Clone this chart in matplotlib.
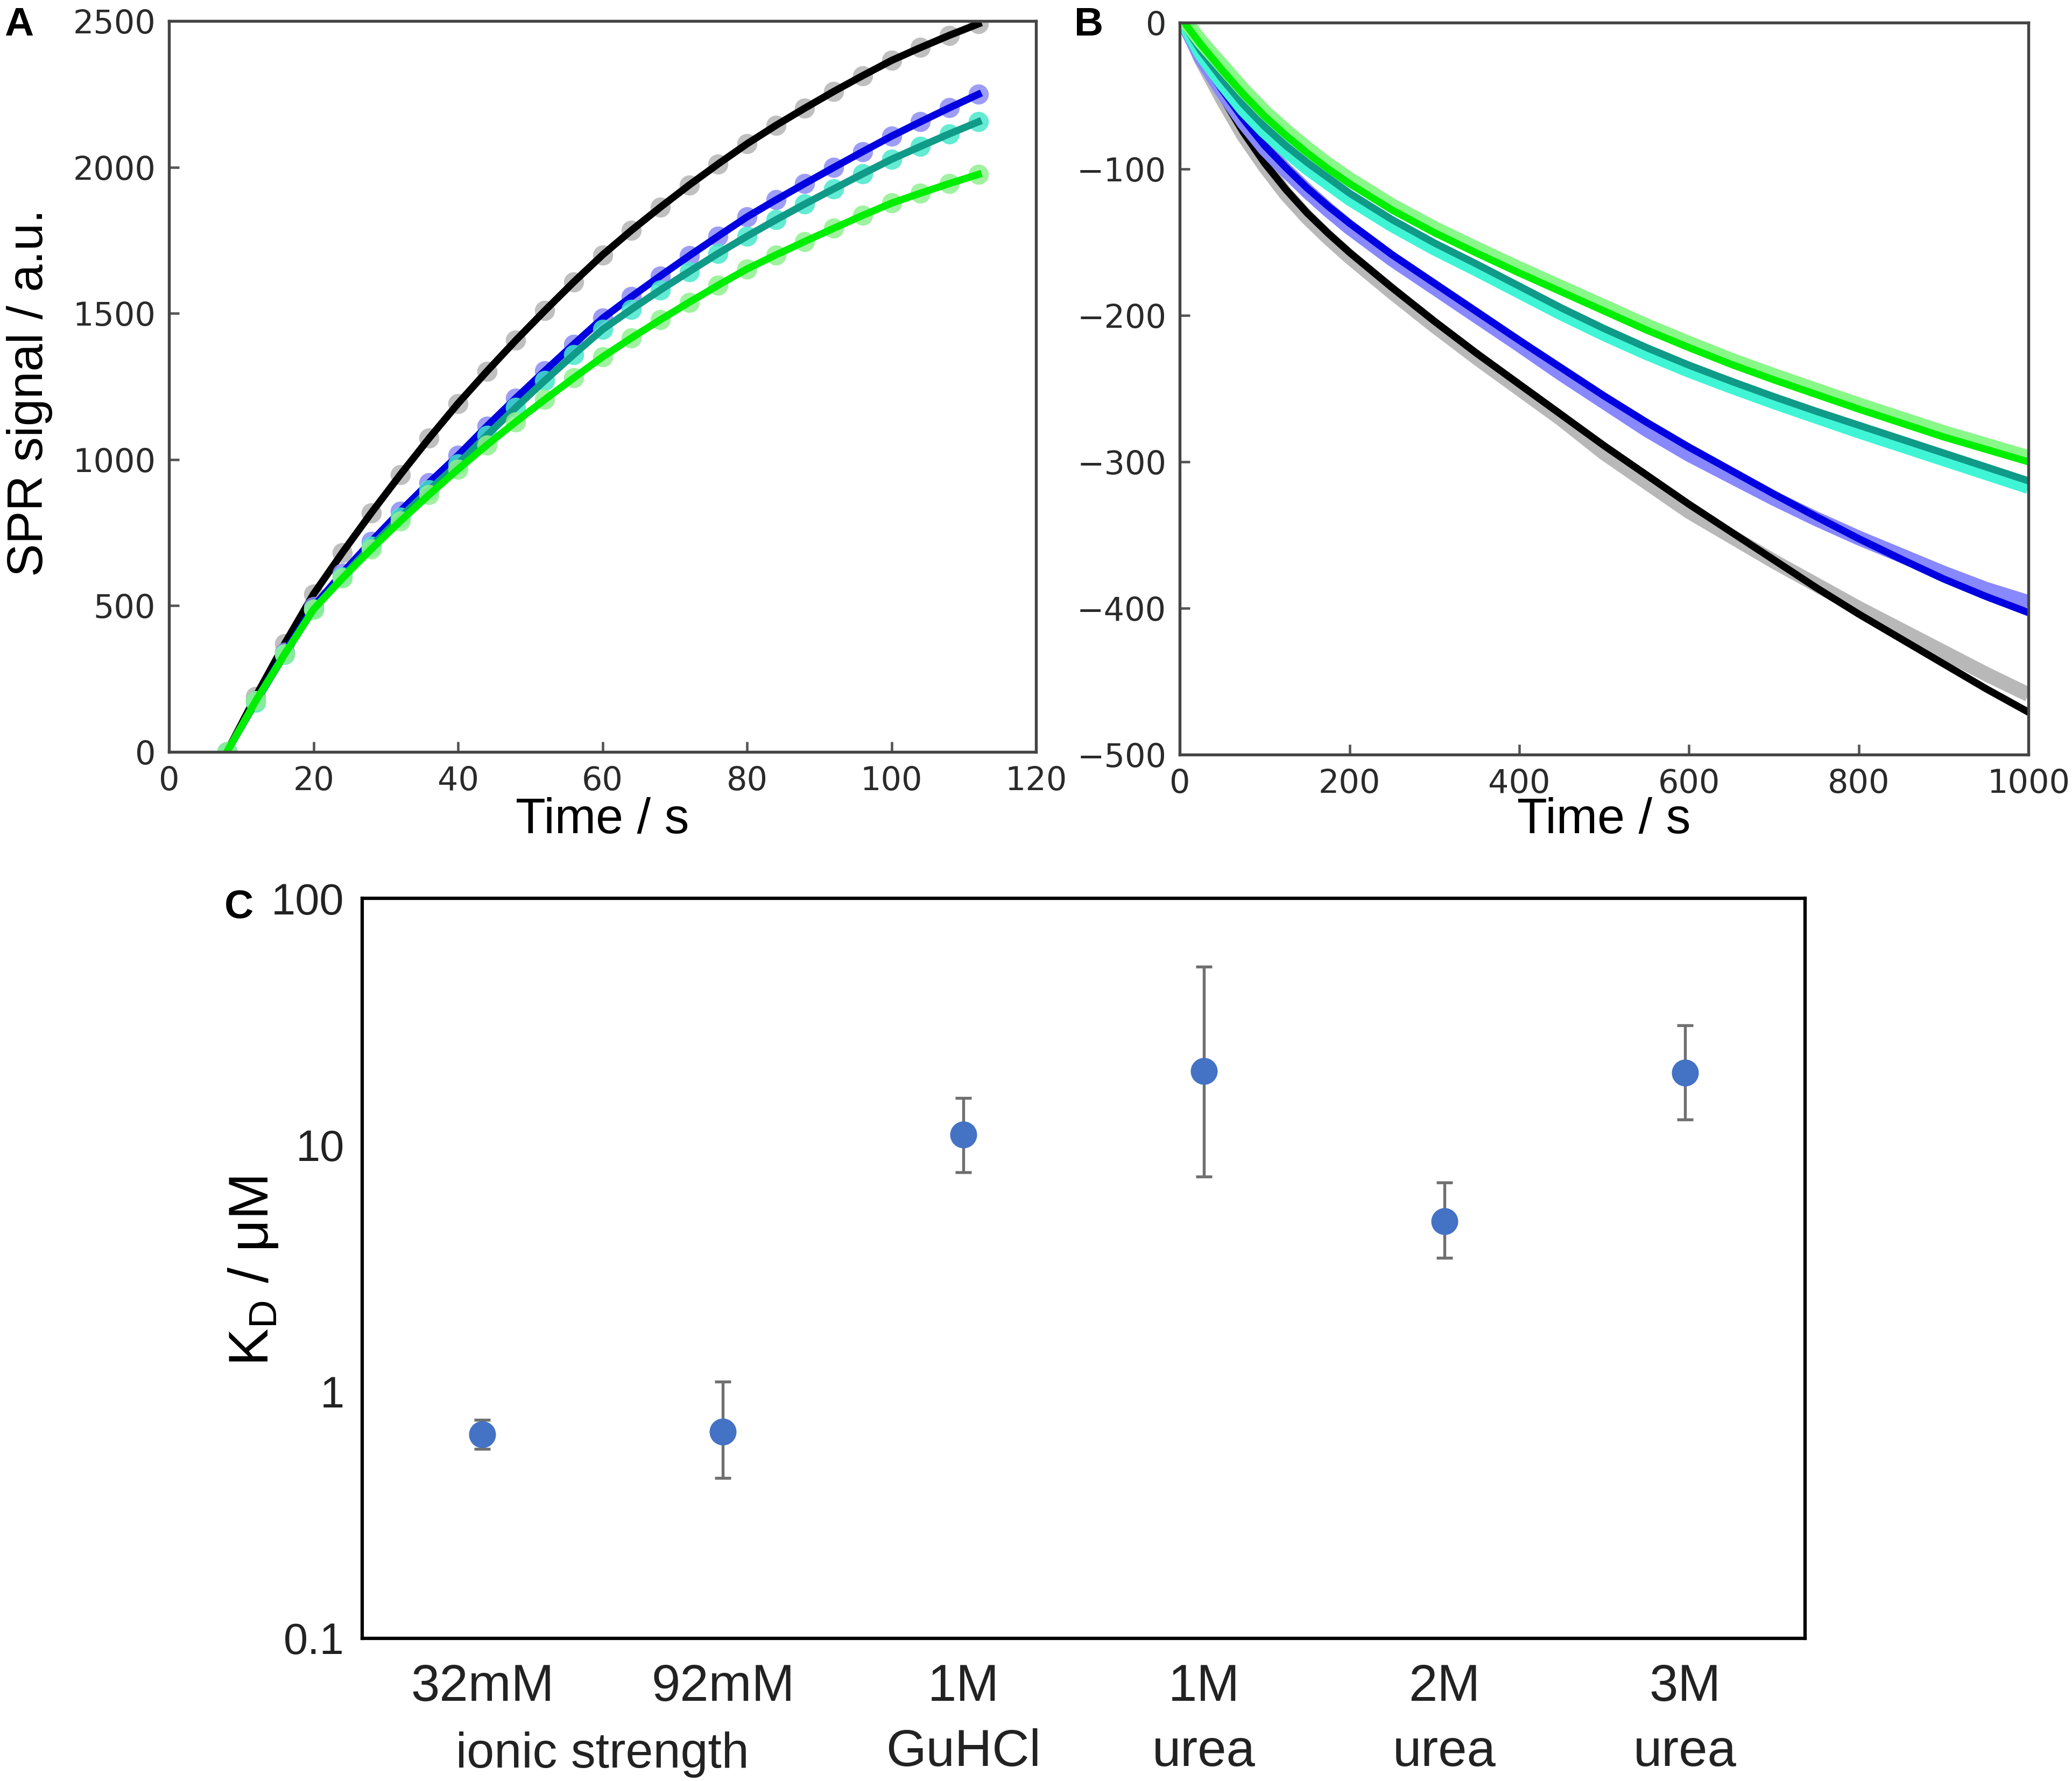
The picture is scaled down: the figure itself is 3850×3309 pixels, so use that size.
import matplotlib
matplotlib.use('Agg')
import matplotlib.pyplot as plt
from matplotlib.ticker import NullLocator

plt.rcParams['font.family'] = ['Liberation Sans', 'DejaVu Sans']
plt.rcParams['mathtext.fontset'] = 'custom'
plt.rcParams['mathtext.rm'] = 'Liberation Sans'
plt.rcParams['mathtext.it'] = 'Liberation Sans:italic'

# Panel A: association phase, one reading every 4 s
t_assoc = [8, 12, 16, 20, 24, 28, 32, 36, 40, 44, 48, 52, 56, 60, 64, 68, 72,
           76, 80, 84, 88, 92, 96, 100, 104, 108, 112]
assoc_black = [0, 190, 370, 540, 682, 818, 948, 1073, 1192, 1302, 1408, 1509, 1607, 1700,
               1784, 1863, 1939, 2011, 2080, 2143, 2202, 2259, 2313, 2365, 2409, 2451, 2490]
assoc_blue = [0, 175, 340, 497, 612, 720, 823, 921, 1014, 1114, 1210, 1303, 1394, 1483,
              1557, 1628, 1697, 1764, 1830, 1888, 1944, 1999, 2053, 2106, 2155, 2203, 2249]
assoc_teal = [0, 170, 333, 488, 599, 703, 802, 896, 985, 1083, 1178, 1270, 1359, 1445,
              1514, 1580, 1643, 1705, 1764, 1820, 1874, 1926, 1977, 2027, 2071, 2114, 2155]
assoc_green = [0, 175, 335, 488, 594, 694, 789, 880, 967, 1050, 1129, 1205, 1279, 1351,
               1416, 1478, 1538, 1596, 1652, 1700, 1746, 1791, 1835, 1877, 1911, 1944, 1975]

# Panel B: dissociation phase (fit lines and measured traces)
t_dissoc = [8, 25, 50, 75, 100, 125, 150, 175, 200, 250, 300, 350, 400, 450, 500,
            550, 600, 650, 700, 750, 800, 850, 900, 950, 1000]
fit_black = [-4, -25, -51, -75, -96, -114, -130, -144, -157, -181, -204, -226, -247,
             -268, -289, -309, -329, -348, -367, -386, -404, -421, -438, -455, -471]
fit_blue = [-4, -24, -46, -66, -84, -99, -113, -125.5, -137, -158.5, -178, -197.5, -217,
            -236, -255, -273, -290, -306, -322, -337.5, -352.5, -366.5, -380, -392, -403]
fit_teal = [-4, -19.5, -38.5, -56, -71, -84, -95.5, -106, -116.5, -134.5, -150.5, -165, -180,
            -195, -209, -222, -234, -245, -255.5, -265.5, -275, -284.5, -294, -303.5, -313]
fit_green = [-2, -15, -32.5, -49, -64, -77, -89, -100, -110, -128, -143.5, -157.5, -171,
             -184, -197, -210, -222, -233.5, -244, -254, -264, -273.5, -283, -291.5, -300]
data_black = [-3, -25, -52, -77, -98, -117, -133, -147, -160, -184, -207, -229, -250,
              -271, -294, -314, -334, -351, -368, -384, -400, -415, -430, -445, -459]
data_blue = [-4, -24, -47, -68, -86, -101, -115, -128, -140, -161.5, -181, -200.5, -220,
             -240, -259, -278, -295, -310, -325, -339, -352, -364, -376, -387, -396]
data_teal = [-3, -21, -41, -59, -74, -87, -99, -109.5, -120, -138, -154, -168.5, -183.5,
             -198.5, -212.5, -225.5, -237.5, -248.5, -259, -269, -279, -288.5, -298, -307.5, -317]
data_green = [0, -13, -29.5, -46, -61, -74, -86, -97, -107, -125, -140.5, -154.5, -168,
              -181, -194, -207, -219, -230.5, -241, -251, -261, -270.5, -280, -288.5, -297]

# Panel C: dissociation constants
conditions = ['32mM', '92mM', '1M\nGuHCl', '1M\nurea', '2M\nurea', '3M\nurea']
kd = [0.67, 0.69, 11.0, 19.9, 4.9, 19.6]
kd_low = [0.587, 0.447, 7.77, 7.44, 3.49, 12.7]
kd_high = [0.769, 1.096, 15.5, 52.9, 7.05, 30.6]

line_colors = ['black', '#0000e0', '#109a88', '#00ee00']
dot_colors = ['#b4b4b4', '#8c8cf5', '#48e8cc', '#90f090']
band_colors = ['#b8b8b8', '#8888ff', '#40f5d5', '#88f888']

fig = plt.figure(figsize=(3850 / 300, 3309 / 300), dpi=300)
axA = fig.add_axes([0.0816, 0.5778, 0.4184, 0.4104])
axB = fig.add_axes([0.5694, 0.5763, 0.4096, 0.4110])
axC = fig.add_axes([0.1748, 0.0801, 0.6964, 0.4155])

# --- A ---
for y, dc, lc in zip([assoc_black, assoc_blue, assoc_teal, assoc_green], dot_colors, line_colors):
    axA.plot(t_assoc, y, 'o', ms=9, mfc=dc, mec='none', alpha=0.85)
    axA.plot(t_assoc, y, '-', color=lc, lw=3.2)
axA.set_xlim(0, 120)
axA.set_ylim(0, 2500)
axA.set_xticks(range(0, 121, 20))
axA.set_yticks(range(0, 2501, 500))
axA.set_xlabel('Time / s', fontsize=22)
axA.xaxis.set_label_coords(0.5, -0.062)
fig.text(0.003, 0.7794, 'SPR signal / a.u.', rotation=90, ha='left', va='center', fontsize=22)

# --- B ---
fits = [fit_black, fit_blue, fit_teal, fit_green]
datas = [data_black, data_blue, data_teal, data_green]
for d, f, bc, lc in zip(datas, fits, band_colors, line_colors):
    axB.plot(t_dissoc, d, '-', color=bc, lw=6.5, solid_capstyle='butt')
    axB.plot(t_dissoc, f, '-', color=lc, lw=3.2)
axB.set_xlim(0, 1000)
axB.set_ylim(-500, 0)
axB.set_xticks(range(0, 1001, 200))
axB.set_yticks(range(-500, 1, 100))
axB.set_xlabel('Time / s', fontsize=22)
axB.xaxis.set_label_coords(0.5, -0.058)

for ax in (axA, axB):
    for s in ax.spines.values():
        s.set_color('#444444')
        s.set_linewidth(1.3)
    ax.tick_params(direction='in', length=4.5, width=1.1, color='#555555',
                   labelcolor='#2a2a2a', labelsize=14.5, pad=6)
    for lbl in ax.get_xticklabels() + ax.get_yticklabels():
        lbl.set_family('DejaVu Sans')

# --- C ---
x = list(range(len(conditions)))
yerr = [[k - lo for k, lo in zip(kd, kd_low)], [hi - k for k, hi in zip(kd, kd_high)]]
axC.errorbar(x, kd, yerr=yerr, fmt='o', ms=11, color='#4472c4', mec='#4472c4',
             ecolor='#707070', elinewidth=1.3, capsize=3.5, capthick=1.3)
axC.set_yscale('log')
axC.set_ylim(0.1, 100)
axC.set_xlim(-0.5, 5.5)
axC.set_yticks([0.1, 1, 10, 100])
axC.set_yticklabels(['0.1', '1', '10', '100'])
axC.yaxis.set_minor_locator(NullLocator())
axC.set_xticks(x)
axC.set_xticklabels(conditions)
axC.tick_params(axis='both', length=0, labelcolor='#222222')
axC.tick_params(axis='x', labelsize=23, pad=11)
axC.tick_params(axis='y', labelsize=19.5, pad=8)
for lbl in axC.get_xticklabels():
    lbl.set_linespacing(1.45)
for s in axC.spines.values():
    s.set_color('black')
    s.set_linewidth(1.5)
axC.text(0.5, -0.157, 'ionic strength', transform=axC.get_xaxis_transform(),
         ha='center', va='center', fontsize=22, color='#222222')
axC.set_ylabel(r'K$_\mathrm{D}$ / μM', fontsize=25)
axC.yaxis.set_label_coords(-0.057, 0.496)

fig.text(0.002, 0.9964, 'A', fontsize=18, fontweight='bold', va='top', ha='left')
fig.text(0.5184, 0.9964, 'B', fontsize=18, fontweight='bold', va='top', ha='left')
fig.text(0.1084, 0.5008, 'C', fontsize=18, fontweight='bold', va='top', ha='left')

fig.savefig('out.png', dpi=300)
